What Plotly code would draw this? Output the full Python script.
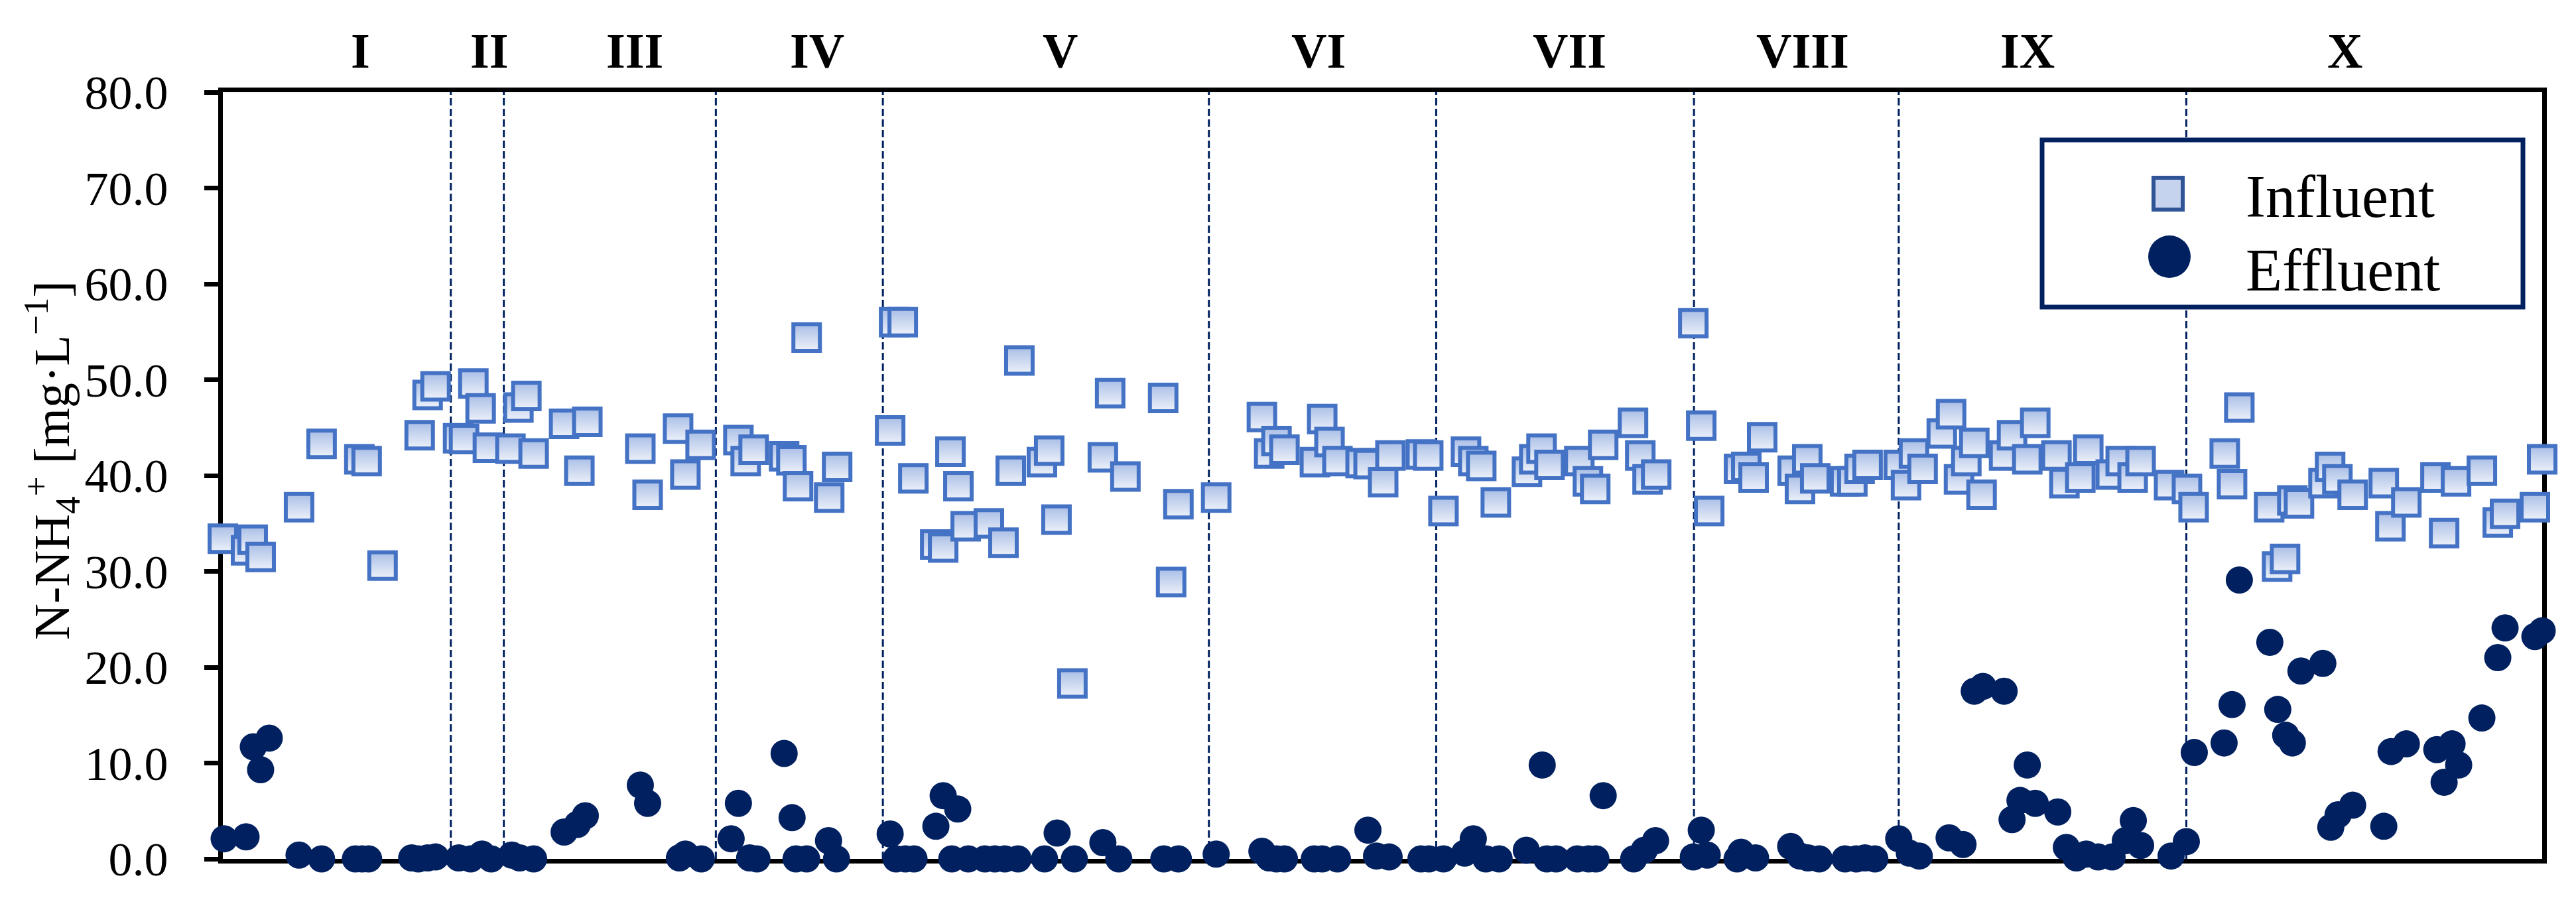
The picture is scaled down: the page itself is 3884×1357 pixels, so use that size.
import plotly.graph_objects as go

# ---------------- data (day of operation, N-NH4+ mg/L) ----------------
inf_day = [0.0, 3.5, 4.5, 5.7, 11.5, 14.9, 20.6, 21.7, 24.1, 29.7, 30.9, 32.1,
           35.5, 36.4, 37.8, 38.9, 40.0,
           43.4, 44.6, 45.8, 46.9, 51.5, 53.8, 55.0, 63.0, 64.1, 68.7, 69.8, 72.1,
           77.8, 78.9, 80.1, 84.7, 85.8, 86.8, 88.1, 91.5, 92.7,
           100.7, 101.3, 102.6, 104.2, 107.5, 108.7, 109.8, 111.0, 112.1, 115.6, 117.8, 118.9,
           120.2, 123.6, 124.7, 125.8, 128.2, 132.8, 133.9, 136.2, 141.9, 143.1, 144.2,
           149.9, 156.8, 157.9, 159.0, 160.2, 164.8, 165.9, 167.0, 168.2, 171.7, 172.9, 175.1,
           176.2, 180.8, 181.9,
           184.2, 187.6, 188.7, 189.9, 192.1, 196.8, 197.9, 199.0, 200.2, 204.7, 206.0, 207.1,
           208.3, 212.8, 213.9, 215.0, 216.3,
           221.9, 223.1, 224.3, 228.8, 229.9, 231.0, 232.3, 236.9, 238.0, 239.1, 240.3, 244.8,
           245.9, 247.0, 248.2,
           252.9, 254.0, 255.2, 256.5, 259.4, 260.8, 262.0, 263.1, 264.3, 265.4, 268.8, 270.0,
           272.3, 273.5, 276.7, 277.9, 280.3, 281.5, 284.9, 286.4, 288.2, 289.4, 293.7, 296.4,
           297.4, 302.1, 303.2, 304.3, 308.8, 310.0, 311.2, 312.3, 313.3, 317.0, 318.0, 319.1,
           321.4, 326.1, 327.1, 329.5, 333.9, 335.2, 337.0, 340.9, 343.3, 344.4, 348.9, 350.0]
inf_val = [33.4, 32.2, 33.3, 31.5, 36.7, 43.3, 41.7, 41.5, 30.6, 44.2, 48.4, 49.3,
           43.9, 43.8, 49.6, 47.0, 42.9,
           42.8, 47.1, 48.3, 42.3, 45.4, 40.5, 45.6, 42.8, 38.0, 44.9, 40.1, 43.2,
           43.7, 41.5, 42.7, 42.0, 41.6, 38.9, 54.4, 37.7, 40.9,
           44.7, 56.0, 56.0, 39.7, 32.8, 32.5, 42.5, 38.9, 34.7, 35.0, 33.0, 40.5,
           52.0, 41.4, 42.6, 35.4, 18.3, 41.9, 48.6, 39.9, 48.1, 28.9, 37.0,
           37.7, 46.1, 42.3, 43.6, 42.7, 41.4, 45.9, 43.5, 41.5, 41.3, 41.2, 39.3,
           42.1, 42.2, 42.1,
           36.3, 42.5, 41.5, 41.0, 37.2, 40.4, 41.7, 42.8, 41.1, 41.5, 39.4, 38.6,
           43.2, 45.5, 42.1, 39.6, 40.1,
           55.9, 45.2, 36.3, 40.7, 40.9, 39.8, 44.0, 40.5, 38.6, 41.7, 39.7, 39.4,
           39.4, 40.7, 41.1,
           41.1, 39.0, 42.3, 40.7, 44.4, 46.4, 39.6, 41.5, 43.4, 38.0, 42.1, 44.2,
           41.7, 45.5, 42.1, 39.2, 39.8, 42.7, 40.1, 41.5, 39.8, 41.5, 39.0, 38.6,
           36.7, 42.3, 39.1, 47.1, 36.7, 30.5, 31.3, 37.4, 37.1, 39.2, 40.9, 39.6,
           38.0, 39.2, 34.7, 37.2, 39.8, 34.0, 39.4, 40.5, 35.1, 36.0, 36.7, 41.7]

eff_day = [0.2, 3.5, 4.6, 5.7, 7.0, 11.5, 14.9, 20.0, 21.0, 22.0, 28.5, 29.5, 30.9, 32.1,
           35.6, 37.4, 39.1, 40.5,
           43.6, 44.8, 46.9, 51.5, 53.5, 54.7, 63.0, 64.1, 68.9, 69.8, 72.2,
           76.7, 77.8, 79.5, 80.6, 84.7, 85.9, 86.5, 88.1, 91.4, 92.6,
           100.7, 101.6, 103.0, 104.3, 107.6, 108.7, 110.0, 110.9, 112.5, 115.0, 116.5, 118.0,
           120.0, 124.0, 125.9, 128.5, 132.8, 135.2, 142.0, 144.2,
           149.9, 156.8, 157.9, 159.0, 160.2, 164.7, 165.9, 168.2, 172.8, 174.1, 176.0, 180.8, 182.0,
           184.2, 187.4, 188.7, 190.6, 192.6, 196.7, 199.1, 199.8, 201.2, 204.4, 206.1, 207.2,
           208.3, 212.9, 214.5, 216.2,
           221.9, 223.1, 224.0, 228.5, 229.1, 231.3, 236.6, 238.0, 239.2, 240.9, 244.8, 246.5,
           247.8, 249.3,
           252.9, 254.5, 256.0, 260.5, 262.6, 264.3, 265.6, 268.8, 270.0, 271.2, 272.3, 273.5,
           276.9, 278.2, 279.7, 281.2, 283.0, 285.1, 287.1, 288.3, 289.4, 294.0, 296.3,
           297.5, 302.0, 303.2, 304.3, 308.9, 310.1, 311.3, 312.3, 313.6, 316.9, 318.1, 319.2,
           321.4, 326.1, 327.2, 329.5, 334.1, 335.2, 336.4, 337.4, 340.9, 343.3, 344.4, 348.9, 350.0]
eff_val = [2.1, 2.3, 11.7, 9.3, 12.6, 0.4, 0.0, 0.0, 0.0, 0.0, 0.1, 0.0, 0.1, 0.2,
           0.1, 0.0, 0.5, 0.0,
           0.4, 0.1, 0.0, 2.8, 3.6, 4.5, 7.7, 5.8, 0.1, 0.5, 0.0,
           2.1, 5.8, 0.1, 0.0, 11.0, 4.3, 0.0, 0.0, 1.9, 0.0,
           2.6, 0.0, 0.0, 0.0, 3.4, 6.6, 0.0, 5.2, 0.0, 0.0, 0.0, 0.0,
           0.0, 0.0, 2.7, 0.0, 1.7, 0.0, 0.0, 0.0,
           0.5, 0.8, 0.1, 0.0, 0.0, 0.0, 0.0, 0.0, 3.0, 0.3, 0.2, 0.0, 0.0,
           0.0, 0.6, 2.1, 0.0, 0.0, 0.9, 9.8, 0.0, 0.0, 0.0, 0.0, 0.0,
           6.6, 0.0, 0.9, 1.9,
           0.2, 3.0, 0.4, 0.0, 0.7, 0.1, 1.3, 0.3, 0.1, 0.0, 0.0, 0.0,
           0.1, 0.0,
           2.1, 0.6, 0.3, 2.2, 1.5, 17.5, 18.0, 17.5, 4.1, 6.1, 9.8, 5.8,
           4.9, 1.2, 0.1, 0.5, 0.2, 0.2, 1.9, 4.0, 1.4, 0.3, 1.8,
           11.1, 12.1, 16.1, 29.1, 22.6, 15.6, 12.9, 12.1, 19.6, 20.4, 3.3, 4.6,
           5.6, 3.4, 11.2, 12.0, 11.4, 8.0, 12.0, 9.8, 14.7, 21.0, 24.1, 23.2, 23.8]

phase_bounds = [34.4, 42.4, 74.4, 99.6, 148.8, 183.1, 222.0, 252.9, 296.3]
phase_names = ["I", "II", "III", "IV", "V", "VI", "VII", "VIII", "IX", "X"]
phase_label_x = [20.8, 40.2, 62.2, 89.7, 126.4, 165.3, 203.2, 238.4, 272.3, 320.2]
y_ticks = [0, 10, 20, 30, 40, 50, 60, 70, 80]

# ---------------- figure ----------------
W, H = 3884, 1357
L, R, T, B = 336, 51, 139, 62
PW, PH = W - L - R, H - T - B
NAVY = "#002060"
FONT = "Liberation Serif"


def px_x(p):
    return (p - L) / PW


def px_y(p):
    return (H - B - p) / PH


fig = go.Figure()
fig.add_trace(go.Scatter(
    x=inf_day, y=inf_val, mode="markers", name="Influent", cliponaxis=False,
    marker=dict(symbol="square", size=40, color="#A9BEE6",
                gradient=dict(type="vertical", color="#EEF2FA"),
                line=dict(color="#4472C4", width=6)),
))
fig.add_trace(go.Scatter(
    x=eff_day, y=eff_val, mode="markers", name="Effluent", cliponaxis=False,
    marker=dict(symbol="circle", size=41, color=NAVY, line=dict(width=0)),
))

shapes = []
for b in phase_bounds:
    shapes.append(dict(type="line", xref="x", yref="paper", x0=b, x1=b, y0=0, y1=1,
                       line=dict(color=NAVY, width=3, dash="11px,5px"), layer="below"))

# legend box (manual, to match the large symbols of the original)
shapes.append(dict(type="rect", xref="paper", yref="paper",
                   x0=px_x(3079), x1=px_x(3804), y0=px_y(463), y1=px_y(211),
                   fillcolor="white", line=dict(color=NAVY, width=7), layer="above"))
shapes.append(dict(type="rect", xref="paper", yref="paper",
                   x0=px_x(3247), x1=px_x(3291), y0=px_y(316), y1=px_y(268),
                   fillcolor="#C6D3EF", line=dict(color="#2F5597", width=6), layer="above"))
shapes.append(dict(type="circle", xref="paper", yref="paper",
                   x0=px_x(3239), x1=px_x(3303), y0=px_y(419), y1=px_y(355),
                   fillcolor=NAVY, line=dict(color=NAVY, width=0), layer="above"))

annotations = []
for name, xl in zip(phase_names, phase_label_x):
    annotations.append(dict(x=xl, y=px_y(77), xref="x", yref="paper", text="<b>%s</b>" % name,
                            showarrow=False, xanchor="center", yanchor="middle",
                            font=dict(family=FONT, size=74, color="black")))
annotations.append(dict(x=px_x(3384), y=px_y(296), xref="paper", yref="paper", text="Influent",
                        showarrow=False, xanchor="left", yanchor="middle",
                        font=dict(family=FONT, size=90, color="black")))
annotations.append(dict(x=px_x(3384), y=px_y(407), xref="paper", yref="paper", text="Effluent",
                        showarrow=False, xanchor="left", yanchor="middle",
                        font=dict(family=FONT, size=90, color="black")))
annotations.append(dict(x=px_x(78), y=px_y(694), xref="paper", yref="paper",
                        text="N-NH<sub>4</sub><sup>+</sup> [mg·L<sup>−1</sup>]",
                        showarrow=False, textangle=-90, xanchor="center", yanchor="middle",
                        font=dict(family=FONT, size=76, color="black")))

fig.update_layout(
    width=W, height=H,
    margin=dict(l=L, r=R, t=T, b=B, pad=0),
    paper_bgcolor="white", plot_bgcolor="white",
    showlegend=False,
    font=dict(family=FONT, color="black"),
    shapes=shapes, annotations=annotations,
    xaxis=dict(range=[0, 350], showticklabels=False, ticks="", showgrid=False, zeroline=False,
               showline=True, linecolor="black", linewidth=7, mirror=True, layer="below traces"),
    yaxis=dict(range=[0, 80], tickvals=y_ticks, tickformat=".1f", ticks="outside", ticklen=21,
               tickwidth=7, tickcolor="black", showgrid=False, zeroline=False,
               showline=True, linecolor="black", linewidth=7, mirror=True,
               tickfont=dict(family=FONT, size=72, color="black"), ticklabelstandoff=40,
               layer="below traces"),
)

fig.write_html("out.html", config={"displayModeBar": False},
               post_script="document.body.style.margin='0';document.body.style.overflow='hidden';")
